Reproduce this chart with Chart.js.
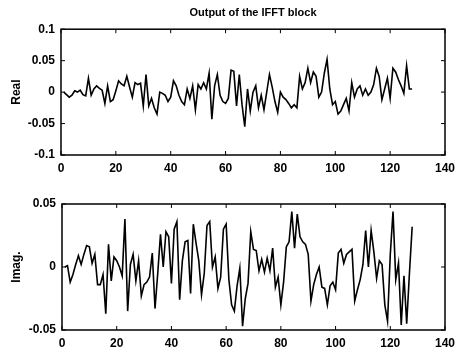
<!DOCTYPE html>
<html>

<head>
    <title>Output of the IFFT block</title>
    <meta charset="utf-8">
    <style>
        body { margin: 0; background: #fff; }
        #wrap { position: relative; width: 456px; height: 351px; background: #fff; }
        .box { position: absolute; left: 0; width: 456px; }
    </style>
</head>

<body>
    <div id="wrap">
        <div class="box" style="top:0;height:180px"><canvas id="realChart"></canvas></div>
        <div class="box" style="top:180px;height:171px"><canvas id="imagChart"></canvas></div>
    </div>

    <script src="https://cdn.jsdelivr.net/npm/chart.js"></script>
    <script>
        // tick positions
        const xTicks = [0, 20, 40, 60, 80, 100, 120, 140];
        const realTicks = [-0.1, -0.05, 0, 0.05, 0.1];
        const imagTicks = [-0.05, 0, 0.05];

        // IFFT output, samples 1..128
        const realValues = [
            0.000, -0.004, -0.008, -0.005, 0.002, 0.000, 0.003, -0.004, -0.006, 0.022,
            -0.005, 0.005, 0.010, 0.006, 0.003, -0.018, 0.010, -0.015, -0.012, 0.002,
            0.018, 0.013, 0.010, 0.025, 0.008, -0.008, 0.015, 0.012, 0.014, -0.022,
            0.028, -0.022, -0.010, -0.025, -0.035, 0.000, -0.002, -0.005, -0.015, -0.008,
            0.018, 0.010, -0.005, -0.015, -0.020, 0.005, -0.010, 0.010, -0.028, 0.012,
            0.005, 0.015, 0.005, 0.030, -0.043, 0.010, 0.028, -0.005, -0.015, -0.018,
            -0.010, 0.035, 0.033, -0.022, 0.028, -0.020, -0.055, 0.005, -0.030, 0.000,
            0.010, -0.025, -0.005, -0.028, 0.000, 0.028, 0.008, -0.015, -0.032, 0.000,
            -0.008, -0.012, -0.018, -0.025, -0.020, -0.025, 0.025, 0.005, 0.015, 0.038,
            0.015, 0.032, 0.025, -0.008, 0.000, 0.030, 0.052, 0.005, -0.020, -0.015,
            -0.035, -0.030, -0.020, -0.010, -0.030, 0.015, -0.008, 0.005, 0.010, -0.005,
            0.005, -0.005, 0.000, 0.012, 0.038, 0.025, -0.012, 0.005, 0.022, -0.010,
            0.038, 0.032, 0.020, 0.010, -0.002, 0.042, 0.005, 0.005
        ];
        const imagValues = [
            0.000, 0.001, -0.012, -0.006, 0.002, 0.009, 0.002, 0.010, 0.017, 0.016,
            0.003, 0.010, -0.014, -0.014, -0.006, -0.037, 0.018, -0.011, 0.008, 0.005,
            0.000, -0.007, 0.038, -0.035, 0.002, 0.010, -0.011, 0.005, -0.023, -0.014,
            -0.012, -0.008, 0.011, -0.033, -0.005, 0.026, 0.000, 0.028, 0.024, -0.013,
            0.030, 0.036, -0.026, 0.005, 0.020, 0.021, -0.021, 0.034, 0.019, 0.005,
            -0.022, -0.005, 0.033, 0.036, 0.000, 0.008, -0.017, -0.008, 0.030, 0.034,
            -0.010, -0.030, -0.035, -0.015, -0.001, -0.047, -0.025, -0.013, 0.028, 0.014,
            0.013, -0.003, 0.006, -0.004, 0.007, -0.003, 0.015, -0.016, -0.008, -0.030,
            -0.012, 0.016, 0.020, 0.044, 0.015, 0.042, 0.024, 0.020, 0.018, 0.010,
            -0.027, -0.014, -0.006, 0.000, -0.016, -0.017, -0.030, -0.015, -0.012, -0.018,
            0.011, 0.014, 0.003, 0.010, 0.012, 0.014, -0.027, -0.018, -0.010, 0.002,
            0.029, 0.000, 0.029, 0.012, -0.009, 0.005, 0.002, -0.030, -0.043, 0.010,
            0.044, -0.010, 0.003, -0.046, -0.007, -0.045, -0.005, 0.032
        ];

        const font = { family: "'Liberation Sans', Arial, sans-serif", size: 12, weight: 'bold' };

        // matlab style box with inward ticks
        const boxPlugin = {
            id: 'box',
            afterDraw(chart) {
                const ctx = chart.ctx;
                const a = chart.chartArea;
                const sx = chart.scales.x, sy = chart.scales.y;
                ctx.save();
                ctx.strokeStyle = '#000';
                ctx.lineWidth = 1.5;
                ctx.strokeRect(a.left, a.top, a.right - a.left, a.bottom - a.top);
                ctx.lineWidth = 1;
                ctx.beginPath();
                sx.ticks.forEach(t => {
                    let px = sx.getPixelForValue(t.value);
                    ctx.moveTo(px, a.bottom); ctx.lineTo(px, a.bottom - 4);
                    ctx.moveTo(px, a.top); ctx.lineTo(px, a.top + 4);
                });
                sy.ticks.forEach(t => {
                    let py = sy.getPixelForValue(t.value);
                    ctx.moveTo(a.left, py); ctx.lineTo(a.left + 4, py);
                    ctx.moveTo(a.right, py); ctx.lineTo(a.right - 4, py);
                });
                ctx.stroke();
                ctx.restore();
            }
        };

        function makeChart(id, values, yTicks, yLabel, opts) {
            let pts = values.map((v, i) => ({ x: i + 1, y: v }));
            return new Chart(document.getElementById(id), {
                type: 'line',
                data: {
                    datasets: [{
                        data: pts,
                        borderColor: '#000',
                        borderWidth: 1.6,
                        pointRadius: 0,
                        tension: 0,
                        fill: false
                    }]
                },
                options: {
                    responsive: true,
                    maintainAspectRatio: false,
                    animation: false,
                    layout: { padding: { top: opts.padTop, right: 11, left: 0, bottom: 0 } },
                    plugins: {
                        legend: { display: false },
                        tooltip: { enabled: false },
                        title: opts.title ? {
                            display: true,
                            text: opts.title,
                            fullSize: false,
                            color: '#000',
                            font: { family: font.family, size: 11, weight: 'bold' },
                            padding: { top: 6, bottom: 10 }
                        } : { display: false }
                    },
                    scales: {
                        x: {
                            type: 'linear',
                            min: 0,
                            max: 140,
                            grid: { display: false, drawTicks: false },
                            border: { display: false },
                            afterBuildTicks: s => { s.ticks = xTicks.map(v => ({ value: v })); },
                            afterFit: s => { s.height = opts.xHeight; s.paddingLeft = 0; s.paddingRight = 0; },
                            ticks: { color: '#000', font: font, padding: 6, maxRotation: 0 }
                        },
                        y: {
                            min: yTicks[0],
                            max: yTicks[yTicks.length - 1],
                            grid: { display: false, drawTicks: false },
                            border: { display: false },
                            afterBuildTicks: s => { s.ticks = yTicks.map(v => ({ value: v })); },
                            afterFit: s => { s.width = opts.yWidth; s.paddingTop = 0; s.paddingBottom = 0; },
                            ticks: { color: '#000', font: font, padding: 6, callback: v => String(v) },
                            title: { display: true, text: yLabel, color: '#000', font: font, padding: { top: 9, bottom: 0 } }
                        }
                    }
                },
                plugins: [boxPlugin]
            });
        }

        makeChart('realChart', realValues, realTicks, 'Real',
            { title: 'Output of the IFFT block', padTop: 0, xHeight: 25, yWidth: 61 });
        makeChart('imagChart', imagValues, imagTicks, 'Imag.',
            { padTop: 24, xHeight: 21, yWidth: 62 });
    </script>
</body>

</html>
